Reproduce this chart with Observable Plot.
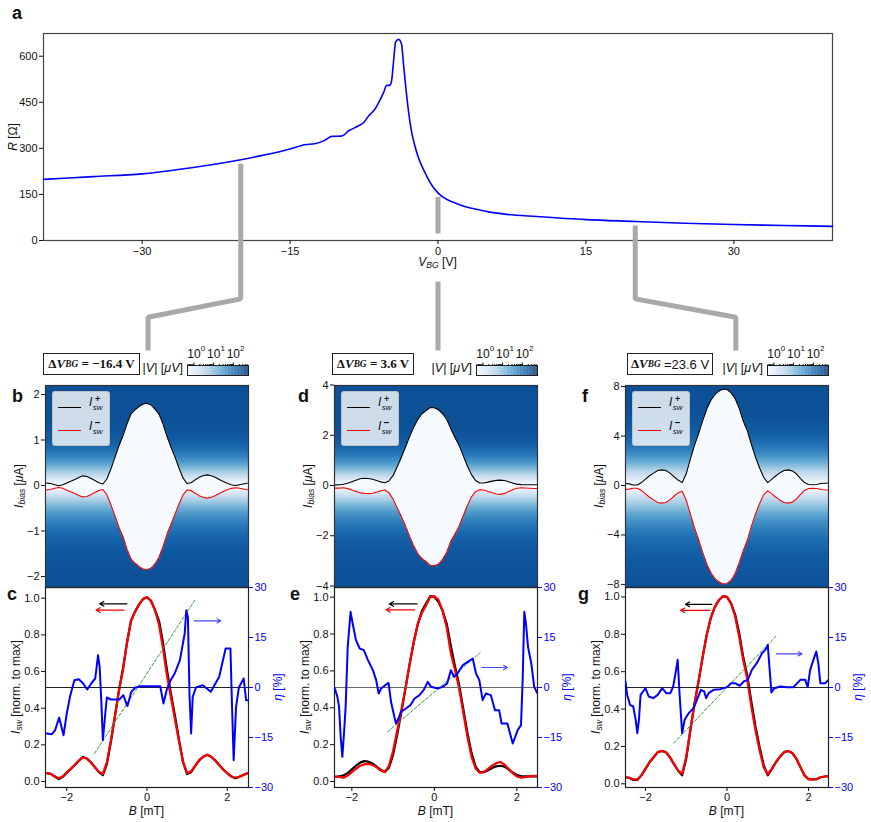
<!DOCTYPE html>
<html><head><meta charset="utf-8">
<script src="https://cdn.jsdelivr.net/npm/d3@7"></script>
<script src="https://cdn.jsdelivr.net/npm/@observablehq/plot@0.6"></script>
<style>
body{margin:0;background:#fff}
#fig{position:relative;width:871px;height:822px;font-family:'Liberation Sans',Arial,sans-serif;color:#111;overflow:hidden;background:#fff}
#fig > *{position:absolute}
.lab{white-space:nowrap;font-size:12px;line-height:1}
.rot{transform:translate(-50%,-50%) rotate(-90deg)}
.ctr{transform:translate(-50%,-50%)}
.let{font-weight:bold;font-size:18px;line-height:1}
sub{font-size:0.72em;vertical-align:-0.3em}
.box{border:1.5px solid #222;background:#fff;box-sizing:border-box;height:22px;display:flex;align-items:center;justify-content:center;font-family:'Liberation Serif',serif;font-weight:bold;font-size:13px}
.leg{border:1px solid rgba(190,190,190,0.9);background:rgba(255,255,255,0.8);border-radius:3px;width:58px;height:55px;box-sizing:border-box}
.leg .ln{position:absolute;left:5px;width:23px;height:0;border-top:1.3px solid}
.leg .t{position:absolute;left:36px;font-style:italic;line-height:1;white-space:nowrap;font-size:12px}
.leg .st{display:inline-block;vertical-align:middle;line-height:0.95;text-align:center;margin-left:0.5px}
.leg .st b{display:block;font-style:normal;font-size:9px}
.leg .st s{display:block;text-decoration:none;font-size:8px}
</style></head><body><div id="fig"></div><script>
// ---------- data ----------
const V_BG  = [-40,-35,-30,-25,-20,-17.5,-15,-13.5,-12.5,-11.5,-10.8,-9.8,-9,-8.2,-7.5,-7,-6.5,-6,-5.5,-5.2,-4.9,-4.7,-4.5,-4.3,-4.0,-3.7,-3.5,-3.3,-3.0,-2.7,-2.4,-2.0,-1.5,-1.0,-0.5,0,0.5,1,2,3,4,5,7,10,15,20,25,30,35,40];
const R_OHM = [199,208,217,237,263,279,298,312,315,326,339,340,358,371,385,407,423,450,483,505,505,521,586,646,655,640,575,510,423,358,315,271,233,201,174,155,141,132,119,108,101,94,85,78,68,62,56,52,49,46];
const R_TICKS = [0,150,300,450,600];
const V_TICKS = [-30,-15,0,15,30];
const CNP = -3.6;                       // charge neutrality point [V]
const DELTA_V = [-16.4, 3.6, 23.6];     // ΔV_BG of the three columns
const CONN_FOOT_V = [-29.4, null, 30.2];

const B_GRID = [-2.5,-2.4,-2.3,-2.2,-2.1,-2.0,-1.9,-1.8,-1.7,-1.6,-1.5,-1.4,-1.3,-1.2,-1.1,-1.0,-0.9,-0.8,-0.7,-0.6,-0.5,-0.4,-0.3,-0.2,-0.1,0,0.1,0.2,0.3,0.4,0.5,0.6,0.7,0.8,0.9,1.0,1.1,1.2,1.3,1.4,1.5,1.6,1.7,1.8,1.9,2.0,2.1,2.2,2.3,2.4,2.5];

// normalised switching currents (I_sw^+ black, |I_sw^-| red)
const C_POS = [0.04,0.036,0.022,0.008,0.02,0.043,0.063,0.085,0.108,0.128,0.12,0.1,0.073,0.046,0.03,0.09,0.21,0.35,0.49,0.61,0.75,0.87,0.92,0.96,0.99,1.0,0.98,0.93,0.87,0.75,0.6,0.47,0.35,0.22,0.1,0.035,0.045,0.08,0.11,0.13,0.14,0.13,0.11,0.085,0.06,0.04,0.022,0.012,0.02,0.03,0.04];
const C_NEG = [0.04,0.036,0.022,0.012,0.022,0.045,0.064,0.085,0.108,0.125,0.12,0.1,0.073,0.048,0.036,0.1,0.22,0.35,0.49,0.6,0.75,0.87,0.92,0.96,0.99,1.0,0.98,0.93,0.85,0.72,0.57,0.45,0.33,0.21,0.1,0.04,0.05,0.08,0.11,0.13,0.14,0.13,0.11,0.085,0.06,0.04,0.022,0.015,0.02,0.03,0.04];
const E_POS = [0.02,0.02,0.022,0.028,0.04,0.06,0.08,0.097,0.105,0.102,0.092,0.076,0.058,0.048,0.07,0.14,0.25,0.37,0.5,0.63,0.75,0.85,0.92,0.96,1.0,0.995,0.97,0.92,0.85,0.73,0.62,0.52,0.39,0.26,0.15,0.075,0.045,0.045,0.055,0.068,0.077,0.08,0.075,0.06,0.043,0.03,0.024,0.022,0.022,0.022,0.022];
const E_NEG = [0.02,0.02,0.02,0.015,0.027,0.045,0.063,0.08,0.087,0.09,0.085,0.072,0.054,0.045,0.08,0.16,0.27,0.38,0.5,0.63,0.75,0.85,0.91,0.95,0.995,1.0,0.98,0.92,0.83,0.69,0.6,0.5,0.37,0.24,0.13,0.065,0.042,0.045,0.063,0.08,0.094,0.1,0.087,0.063,0.04,0.022,0.015,0.018,0.022,0.025,0.025];
const G_POS = [0.03,0.027,0.015,0.015,0.04,0.075,0.11,0.137,0.164,0.17,0.164,0.137,0.1,0.066,0.04,0.13,0.28,0.42,0.54,0.67,0.79,0.88,0.94,0.977,0.998,0.995,0.96,0.9,0.8,0.67,0.57,0.43,0.3,0.19,0.095,0.04,0.075,0.11,0.14,0.164,0.17,0.16,0.13,0.084,0.04,0.02,0.018,0.02,0.03,0.034,0.036];
const G_NEG = [0.03,0.027,0.018,0.018,0.04,0.075,0.11,0.137,0.164,0.17,0.164,0.137,0.1,0.066,0.048,0.14,0.28,0.42,0.54,0.67,0.79,0.88,0.94,0.977,0.998,0.995,0.96,0.89,0.78,0.655,0.55,0.405,0.28,0.173,0.084,0.045,0.075,0.11,0.14,0.164,0.17,0.16,0.13,0.084,0.04,0.02,0.018,0.02,0.03,0.034,0.036];
const I_MAX = [1.83, 3.15, 7.9];   // μA

// diode efficiency η [%] as [B, η]
const C_ETA = [[-2.5,-13.8],[-2.37,-14],[-2.29,-12.8],[-2.19,-9],[-2.08,-14.3],[-2.0,-7.8],[-1.92,-2.8],[-1.81,2.2],[-1.7,2.5],[-1.59,1.2],[-1.49,-0.6],[-1.39,1.2],[-1.29,2.7],[-1.22,9.7],[-1.18,6.2],[-1.14,-3.8],[-1.1,-15.8],[-1.04,-7.8],[-1.0,-3],[-0.9,-3.6],[-0.69,-3.6],[-0.59,-2.3],[-0.49,-5.6],[-0.39,-1.3],[-0.29,0],[-0.16,0.4],[0.33,0.4],[0.41,-4.8],[0.49,-0.8],[0.59,2.2],[0.69,4.2],[0.82,8.2],[0.88,12.2],[0.94,16.2],[0.98,23.2],[1.02,21],[1.06,-2.3],[1.1,-13.8],[1.14,-2.8],[1.22,0],[1.39,0.7],[1.59,-1.3],[1.8,3.2],[1.96,11.7],[2.08,11.7],[2.12,-5.8],[2.16,-21.8],[2.22,-5.8],[2.29,0],[2.41,2.7],[2.47,-3.8],[2.53,-3.8]];
const E_ETA = [[-2.42,0],[-2.35,-2.8],[-2.31,-5.8],[-2.27,-14.8],[-2.23,-20.8],[-2.19,-13.8],[-2.15,-5.8],[-2.1,12.2],[-2.03,22.7],[-1.98,19.2],[-1.9,14.2],[-1.81,11.7],[-1.71,11.2],[-1.61,8.2],[-1.49,5.2],[-1.41,2.2],[-1.35,-1.8],[-1.29,-0.3],[-1.19,0.7],[-1.11,1.4],[-1.05,-4.3],[-0.97,-8.8],[-0.93,-10.8],[-0.87,-9.3],[-0.81,-7.3],[-0.69,-6.3],[-0.58,-5.3],[-0.48,-3.3],[-0.36,-2.3],[-0.26,-0.8],[-0.16,1.7],[-0.08,0.2],[0.08,-0.3],[0.2,0.2],[0.31,1.2],[0.4,5.2],[0.48,3.2],[0.56,4.2],[0.69,6.7],[0.81,7.7],[0.93,8.7],[1.01,4.2],[1.09,2.2],[1.17,-3.8],[1.25,-1.8],[1.37,-2.3],[1.47,-6.8],[1.57,-6.8],[1.63,-10.8],[1.77,-10.8],[1.9,-16.8],[2.02,-12.8],[2.1,-11.3],[2.14,2.2],[2.18,22.7],[2.22,19.2],[2.27,12.2],[2.35,7.2],[2.42,0.2],[2.5,-1.8]];
const G_ETA = [[-2.49,1.8],[-2.45,-2.2],[-2.38,-5.2],[-2.3,-5.7],[-2.24,-9.7],[-2.2,-13.7],[-2.16,-9.7],[-2.12,-2.2],[-2.06,-1.2],[-2.0,-0.2],[-1.92,-2.7],[-1.81,-3.2],[-1.7,-2.2],[-1.59,-0.2],[-1.49,-1.7],[-1.39,-1.7],[-1.32,0.3],[-1.27,3.8],[-1.21,8.3],[-1.16,-2.7],[-1.1,-13.7],[-1.04,-9.7],[-0.94,-7.7],[-0.82,-6.2],[-0.72,-3.2],[-0.64,-0.7],[-0.56,-1.2],[-0.51,-3.2],[-0.45,-1.7],[-0.33,-0.7],[-0.16,-0.5],[0,0.1],[0.1,1.3],[0.2,1.3],[0.31,0.5],[0.41,1.8],[0.51,2.3],[0.61,5.3],[0.73,7.3],[0.86,10.3],[0.94,11.3],[1.0,12.8],[1.04,6.3],[1.09,-1.5],[1.16,-0.2],[1.31,0.3],[1.47,0.1],[1.63,0.1],[1.8,2.3],[1.92,2.3],[1.98,0.1],[2.04,5.3],[2.12,8.3],[2.19,10.8],[2.24,7.3],[2.29,1.3],[2.41,1.3],[2.49,2.3]];
// linear fits of η(B) (green dashed)
const C_FIT = [[-1.31,-19.8],[1.21,26.5]];
const E_FIT = [[-1.13,-13.3],[1.11,10.4]];
const G_FIT = [[-1.31,-16.7],[1.21,15.5]];
// guide arrows: [B start, B end, level]
const C_ARROWS = [[-0.5,-1.18,0.964,'black'],[-0.57,-1.27,0.93,'red']];
const E_ARROWS = [[-0.42,-1.09,0.958,'black'],[-0.48,-1.17,0.926,'red']];
const G_ARROWS = [[-0.37,-1.02,0.955,'black'],[-0.42,-1.14,0.923,'red']];
const C_ETA_ARROW = [1.18,1.84,20];
const E_ETA_ARROW = [1.15,1.77,6];
const G_ETA_ARROW = [1.21,1.84,10.1];

const CB_DOMAIN = [0.47, 590];     // |V| [μV]
const CB_TICKS = [1,10,100];
const CB_EXP = ["0","1","2"];
const ETA_TICKS = [-30,-15,0,15,30];
const ISW_TICKS = [0,0.2,0.4,0.6,0.8,1.0];
const B_TICKS = [-2,0,2];

// ---------- helpers ----------
const FONT = "'Liberation Sans', Arial, sans-serif";
const fig = document.getElementById('fig');
const baseStyle = {fontFamily: FONT, fontSize: "11px", background: "transparent", overflow: "visible", color: "#111"};
const intFmt = d => (d < 0 ? "−" : "") + Math.abs(d);
function put(node, x, y){ node.style.left = x+'px'; node.style.top = y+'px'; fig.appendChild(node); return node; }
function div(html, x, y, cls, extra){ const d=document.createElement('div'); d.className=cls||'lab'; d.innerHTML=html; if(extra) Object.assign(d.style, extra); return put(d,x,y); }
function interp(x, xs, ys){
  if (x <= xs[0]) return ys[0];
  if (x >= xs[xs.length-1]) return ys[ys.length-1];
  const i = d3.bisectRight(xs, x);
  const t = (x - xs[i-1])/(xs[i]-xs[i-1]);
  return ys[i-1] + t*(ys[i]-ys[i-1]);
}
const LLO = Math.log10(CB_DOMAIN[0]), LHI = Math.log10(CB_DOMAIN[1]);

// ---------- panel a ----------
const curveA = V_BG.map((v,i)=>({v, r:R_OHM[i]}));
const GAP = 13, KNEE_R = -190, FOOT_R = -250, END_R = -358, MID_UP_END = 23, MID_LO_START = -134;
const conn = [];
DELTA_V.forEach((dv,k)=>{
  const v = CNP + dv, top = interp(v, V_BG, R_OHM) - GAP;
  if (CONN_FOOT_V[k] == null) {
    conn.push({id:k+'u', v, r:top},{id:k+'u', v, r:MID_UP_END});
    conn.push({id:k+'l', v, r:MID_LO_START},{id:k+'l', v, r:END_R});
  } else {
    const fv = CONN_FOOT_V[k];
    conn.push({id:k, v, r:top},{id:k, v, r:KNEE_R},{id:k, v:fv, r:FOOT_R},{id:k, v:fv, r:END_R});
  }
});
const pa = Plot.plot({
  width: 871, height: 360, marginLeft: 43, marginRight: 39, marginTop: 33, marginBottom: 120,
  x: {domain: [-40, 40]}, y: {domain: [0, 674]},
  style: baseStyle,
  marks: [
    Plot.frame({stroke: "#444", strokeWidth: 1.2}),
    Plot.axisX({ticks: V_TICKS, tickSize: 4, tickPadding: 3, label: null, fontSize: 11, tickFormat: intFmt}),
    Plot.axisY({ticks: R_TICKS, tickSize: 4, tickPadding: 2, label: null, fontSize: 11, tickFormat: intFmt}),
    Plot.line(curveA, {x: "v", y: "r", stroke: "#0000ff", strokeWidth: 1.6, curve: "monotone-x"}),
    Plot.line(conn, {x: "v", y: "r", z: "id", stroke: "#a9a9a9", strokeWidth: 5, strokeLinejoin: "miter", strokeLinecap: "butt"})
  ]
});
put(pa, 0, 0);
div("a", 12, 4, "let");
div("<i>R</i> [Ω]", 13, 137, "lab rot");
div("<i>V</i><sub><i>BG</i></sub> [V]", 437.5, 263, "lab ctr");

// ---------- columns ----------
const COLS = [
  {L:45, xd:[-2.53,2.53], hyd:[-2.22,2.22], hticks:[-2,-1,0,1,2], imax:I_MAX[0], pos:C_POS, neg:C_NEG, eta:C_ETA, fit:C_FIT, arrows:C_ARROWS, etaArrow:C_ETA_ARROW, byd:[-0.038,1.053], lt:"b", lb:"c", ltx:12, lbx:7, boxX:43, boxW:97, boxHtml:"Δ<i>V</i><sub><i>BG</i></sub>&nbsp;= −16.4 V", zeroCol:"#222"},
  {L:334, xd:[-2.42,2.5], hyd:[-4.02,4.02], hticks:[-4,-2,0,2,4], imax:I_MAX[1], pos:E_POS, neg:E_NEG, eta:E_ETA, fit:E_FIT, arrows:E_ARROWS, etaArrow:E_ETA_ARROW, byd:[-0.038,1.047], lt:"d", lb:"e", ltx:298, lbx:290, boxX:332, boxW:82, boxHtml:"Δ<i>V</i><sub><i>BG</i></sub>&nbsp;= 3.6 V", zeroCol:"#666"},
  {L:625, xd:[-2.49,2.49], hyd:[-8.17,8.17], hticks:[-8,-4,0,4,8], imax:I_MAX[2], pos:G_POS, neg:G_NEG, eta:G_ETA, fit:G_FIT, arrows:G_ARROWS, etaArrow:G_ETA_ARROW, byd:[-0.025,1.045], lt:"f", lb:"g", ltx:582, lbx:578, boxX:627, boxW:86, boxHtml:"Δ<i>V</i><sub><i>BG</i></sub>&nbsp;<span style='font-family:Liberation Sans,Arial;font-weight:normal'>=23.6 V</span>", zeroCol:"#222"}
];
const FW = 203;

COLS.forEach(c => {
  const rows = B_GRID.map((b,i)=>({b, up: c.pos[i]*c.imax, dn: -c.neg[i]*c.imax, p: c.pos[i], n: c.neg[i]}));
  const field = (B, I) => {
    const up = interp(B, B_GRID, c.pos)*c.imax, dn = -interp(B, B_GRID, c.neg)*c.imax;
    let t;
    if (I <= up && I >= dn) t = 0;
    else if (I > up) t = 0.88*(1 - Math.exp(-Math.pow(I/c.imax/0.28, 1.5)));
    else t = 0.88*(1 - Math.exp(-Math.pow(-I/c.imax/0.3, 1.2)));
    return Math.pow(10, LLO + t*(LHI-LLO));
  };
  // heatmap
  const ph = Plot.plot({
    width: 45+FW+10, height: 212, marginLeft: 45, marginRight: 10, marginTop: 10, marginBottom: 0,
    x: {domain: c.xd, axis: null}, y: {domain: c.hyd},
    color: {type: "log", scheme: "blues", domain: CB_DOMAIN},
    style: baseStyle,
    marks: [
      Plot.raster({fill: field, x1: c.xd[0], x2: c.xd[1], y1: c.hyd[0], y2: c.hyd[1], width: FW, height: 202}),
      Plot.line(rows, {x: "b", y: "up", stroke: "black", strokeWidth: 1.1, clip: true}),
      Plot.line(rows, {x: "b", y: "dn", stroke: "red", strokeWidth: 1.1, clip: true}),
      Plot.frame({stroke: "#333", strokeWidth: 1.2}),
      Plot.axisY({ticks: c.hticks, tickSize: 4, tickPadding: 2, label: null, fontSize: 11, tickFormat: intFmt, dy: -1})
    ]
  });
  put(ph, c.L-45, 375);

  // bottom: left axis
  const arr = c.arrows.map(a=>({x1:a[0], x2:a[1], y:a[2], col:a[3]}));
  const pl = Plot.plot({
    width: 45+FW+45, height: 245, marginLeft: 45, marginRight: 45, marginTop: 10, marginBottom: 35,
    x: {domain: c.xd}, y: {domain: c.byd},
    style: baseStyle,
    marks: [
      Plot.line(rows, {x: "b", y: "p", stroke: "black", strokeWidth: 2.2, clip: true}),
      Plot.line(rows, {x: "b", y: "n", stroke: "red", strokeWidth: 2.2, clip: true}),
      Plot.arrow(arr, {x1: "x1", x2: "x2", y1: "y", y2: "y", stroke: "col", strokeWidth: 1.2, headLength: 6}),
      Plot.frame({stroke: "#222", strokeWidth: 1.2}),
      Plot.axisX({ticks: B_TICKS, tickSize: 4, tickPadding: 2, label: null, fontSize: 11, tickFormat: intFmt}),
      Plot.axisY({ticks: ISW_TICKS, tickSize: 4, tickPadding: 2, tickFormat: d3.format(".1f"), label: null, fontSize: 11, dy: 1})
    ]
  });
  put(pl, c.L-45, 577);

  // bottom: right axis (η)
  const etaRows = c.eta.map(d=>({b:d[0], e:d[1]}));
  const fitRows = c.fit.map(d=>({b:d[0], e:d[1]}));
  const ea = c.etaArrow;
  const pr = Plot.plot({
    width: 45+FW+45, height: 245, marginLeft: 45, marginRight: 45, marginTop: 10, marginBottom: 35,
    x: {domain: c.xd, axis: null}, y: {domain: [-30, 30]},
    style: baseStyle,
    marks: [
      Plot.ruleY([0], {stroke: c.zeroCol, strokeWidth: 1.2}),
      Plot.line(fitRows, {x: "b", y: "e", stroke: "#3a9a3a", strokeWidth: 1, strokeDasharray: "3,2"}),
      Plot.line(etaRows, {x: "b", y: "e", stroke: "#0000ff", strokeWidth: 2, clip: true}),
      Plot.arrow([{x1: ea[0], x2: ea[1], y: ea[2]}], {x1: "x1", x2: "x2", y1: "y", y2: "y", stroke: "#4848ff", strokeWidth: 1.1, headLength: 6}),
      Plot.axisY({anchor: "right", ticks: ETA_TICKS, tickSize: 4, tickPadding: 2, label: null, color: "#0000ff", fontSize: 11, tickFormat: intFmt})
    ]
  });
  put(pr, c.L-45, 577);

  // colorbar
  const n = 80, cb = d3.range(n).map(i=>({a: Math.pow(10, LLO+(LHI-LLO)*i/n), z: Math.pow(10, LLO+(LHI-LLO)*(i+1)/n), v: Math.pow(10, LLO+(LHI-LLO)*(i+0.5)/n)}));
  const minor = [];
  [0.1,1,10,100].forEach(dec=>{ for (let m=2;m<=9;m++){ const v=m*dec; if(v>CB_DOMAIN[0] && v<CB_DOMAIN[1]) minor.push(v);} });
  const cbLab = CB_TICKS.map((t,i)=>({t, e: CB_EXP[i]}));
  const pc = Plot.plot({
    width: 61+20, height: 37, marginLeft: 10, marginRight: 10, marginTop: 25, marginBottom: 2,
    x: {type: "log", domain: CB_DOMAIN, axis: null}, y: {domain: [0,1], axis: null},
    color: {type: "log", scheme: "blues", domain: CB_DOMAIN},
    style: baseStyle,
    marks: [
      Plot.rect(cb, {x1: "a", x2: "z", y1: 0, y2: 1, fill: "v"}),
      Plot.frame({stroke: "#222", strokeWidth: 1}),
      Plot.axisX({anchor: "top", ticks: minor, tickSize: 2, tickFormat: () => "", label: null}),
      Plot.axisX({anchor: "top", ticks: CB_TICKS, tickSize: 3.5, tickFormat: () => "", label: null}),
      Plot.text(cbLab, {x: "t", y: 1, text: () => "10", dy: -11, fontSize: 12, textAnchor: "middle"}),
      Plot.text(cbLab, {x: "t", y: 1, text: "e", dy: -17, dx: 9, fontSize: 8, textAnchor: "middle"})
    ]
  });
  put(pc, c.L+FW-61-10, 340);

  // labels
  div(c.lt, c.ltx, 387, "let");
  div(c.lb, c.lbx, 585, "let");
  div(c.boxHtml, c.boxX, 353, "box", {width: c.boxW+"px"});
  div("|<i>V</i>| [<i>μV</i>]", c.L+FW-61-4, 362, "lab", {transform: "translateX(-100%)", fontSize: "12.5px"});
  div("<i>I</i><sub><i>bias</i></sub> [<i>μ</i>A]", c.L-25, 486, "lab rot");
  div("<i>I</i><sub><i>sw</i></sub> [norm. to max]", c.L-28, 687, "lab rot");
  div("<i>η</i> [%]", c.L+FW+30, 687, "lab rot", {color: "#0000ff"});
  div("<i>B</i> [mT]", c.L+FW/2, 811, "lab ctr");
  div(
    "<div class='ln' style='top:15px;border-color:#000'></div>" +
    "<div class='t' style='top:3px'>I<span class='st'><b>+</b><s>sw</s></span></div>" +
    "<div class='ln' style='top:38px;border-color:#f00'></div>" +
    "<div class='t' style='top:26px'>I<span class='st'><b style='font-weight:bold;font-size:10px'>−</b><s>sw</s></span></div>",
    c.L+7, 391, "leg");
});
</script></body></html>
